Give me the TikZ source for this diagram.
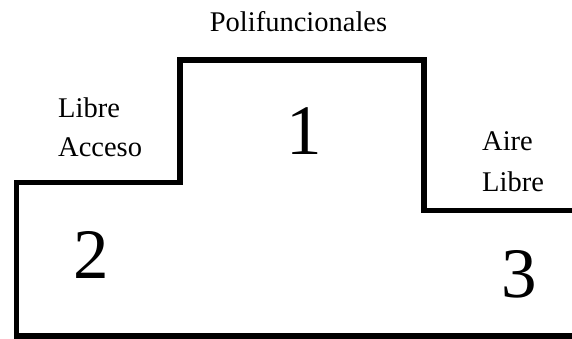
\documentclass[tikz,border=0pt]{standalone}
\usepackage{fontspec}
\setmainfont{Liberation Serif}
\begin{document}
\begin{tikzpicture}[x=1pt,y=-1pt,
  lbl/.style={inner sep=0pt,font=\fontsize{28.5}{32}\selectfont},
  num/.style={inner sep=0pt,anchor=base,font=\fontsize{71}{80}\selectfont},
  podium/.style={line width=5.5pt,line join=miter}]
\useasboundingbox (0,0) rectangle (572,339);
\draw[podium] (572,210.5) -- (424,210.5) -- (424,60) -- (180,60) -- (180,182.5)
  -- (16.5,182.5) -- (16.5,336) -- (572,336);
\node[lbl,anchor=base] (poli) at (298.5,32) {Polifuncionales};
\node[lbl,anchor=base west] (libre1) at (58,118) {Libre};
\node[lbl,anchor=base west] (acceso) at (58,157) {Acceso};
\node[lbl,anchor=base west] (aire) at (482,151) {Aire};
\node[lbl,anchor=base west] (libre2) at (482,191) {Libre};
\node[num] (n1) at (304,155) {1};
\node[num] (n2) at (91.5,278) {2};
\node[num] (n3) at (519,297) {3};
\end{tikzpicture}
\end{document}
